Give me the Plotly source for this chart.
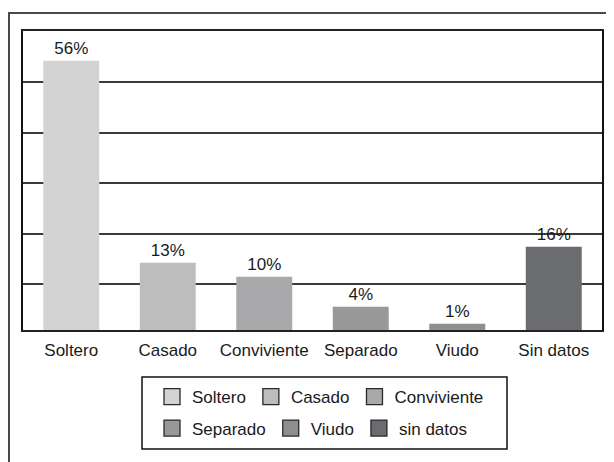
import plotly.graph_objects as go

categorias = ["Soltero", "Casado", "Conviviente", "Separado", "Viudo", "Sin datos"]
valores = [56.0, 14.0, 11.1, 4.85, 1.3, 17.3]
etiquetas = ["56%", "13%", "10%", "4%", "1%", "16%"]
colores = ["#d3d3d3", "#bdbdbd", "#a9a9ab", "#98989a", "#8e8e90", "#6b6c70"]
leyenda = ["Soltero", "Casado", "Conviviente", "Separado", "Viudo", "sin datos"]
grid_vals = [9.5, 20, 30.5, 41, 51.5]

FONT = "Liberation Sans, Arial, Helvetica, sans-serif"
FS = 17

fig = go.Figure()
fig.add_trace(go.Bar(
    x=categorias, y=valores, text=etiquetas, textposition="outside",
    marker=dict(color=colores, line=dict(width=0)),
    textfont=dict(size=FS, color="#1a1a1a"), cliponaxis=False,
    showlegend=False,
))

# legend entries (symbol squares), three per row
for i, (nom, col) in enumerate(zip(leyenda, colores)):
    fig.add_trace(go.Scatter(
        x=[None], y=[None], mode="markers", name=nom,
        marker=dict(symbol="square", size=16, color=col,
                    line=dict(width=1.3, color="#2a2a2a")),
        legend="legend" if i < 3 else "legend2",
    ))

# page body adds 8px, so layout numbers are screen pixels minus 8
OFF = 8
W, H = 614, 462
L, R, T = 23 - OFF, W - (602 - OFF), 31 - OFF
B = H - (330 - OFF)
pw, ph = W - L - R, H - T - B


def px_x(p):
    return (p - OFF - L) / pw


def px_y(p):
    return (H - B - (p - OFF)) / ph


fig.update_layout(
    width=W, height=H,
    margin=dict(l=L, r=R, t=T, b=B, autoexpand=False),
    paper_bgcolor="white", plot_bgcolor="white",
    font=dict(family=FONT, size=FS, color="#1a1a1a"),
    bargap=0.42,
    xaxis=dict(showline=True, linecolor="#222", linewidth=2, mirror=True,
               ticks="", showgrid=False, tickangle=0, automargin=False,
               ticklabelstandoff=4, tickfont=dict(size=FS)),
    yaxis=dict(range=[0, 62.2], tickvals=grid_vals, showticklabels=False,
               showgrid=True, gridcolor="#3a3a3a", gridwidth=1.5,
               showline=True, linecolor="#111", linewidth=1.5, mirror=True,
               zeroline=False, ticks="", automargin=False),
    legend=dict(orientation="h", x=px_x(152), y=px_y(397), xanchor="left",
                yanchor="middle", bgcolor="rgba(0,0,0,0)", borderwidth=0,
                itemwidth=30, font=dict(size=FS)),
    legend2=dict(orientation="h", x=px_x(152), y=px_y(428.5), xanchor="left",
                 yanchor="middle", bgcolor="rgba(0,0,0,0)", borderwidth=0,
                 itemwidth=30, font=dict(size=FS)),
    shapes=[
        # outer frame, runs off the right and bottom edges
        dict(type="rect", xref="paper", yref="paper",
             x0=px_x(9), x1=px_x(640), y0=px_y(490), y1=px_y(13),
             line=dict(color="#4a4a4a", width=2)),
        # legend box
        dict(type="rect", xref="paper", yref="paper",
             x0=px_x(142), x1=px_x(507), y0=px_y(449), y1=px_y(377),
             line=dict(color="#111", width=1.5)),
    ],
)

fig.write_html("out.html")
